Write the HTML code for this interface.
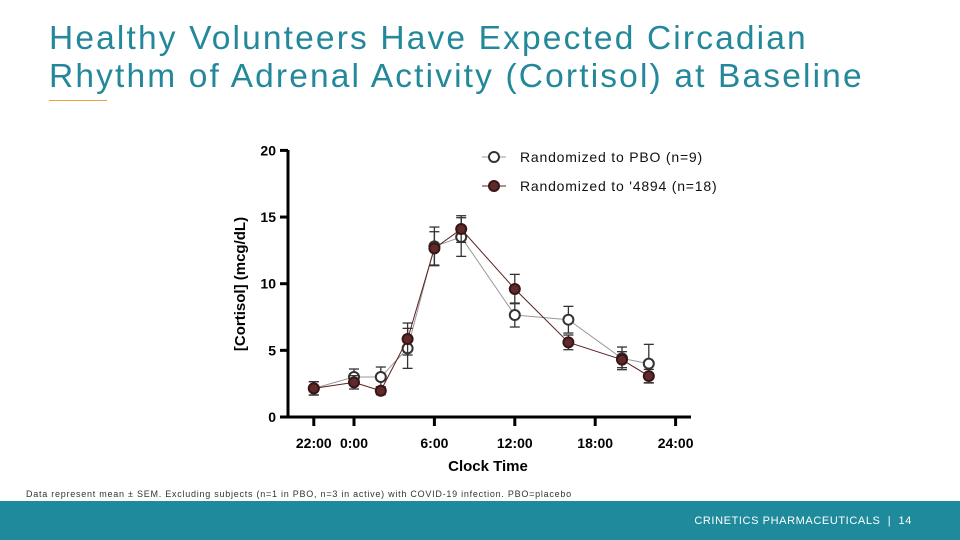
<!DOCTYPE html>
<html><head><meta charset="utf-8"><style>
body{margin:0;width:960px;height:540px;background:#fff;position:relative;overflow:hidden;font-family:"Liberation Sans",sans-serif}
.title{position:absolute;left:49px;top:20px;font-size:33.5px;line-height:38px;color:#23889a;font-weight:normal;letter-spacing:2.15px;white-space:nowrap}
.rule{position:absolute;left:49px;top:100px;width:58px;height:1px;background:#e8a040}
.note{position:absolute;left:26px;top:489px;font-size:9px;color:#333;letter-spacing:0.75px;white-space:nowrap}
.footer{position:absolute;left:0;top:501px;width:960px;height:39px;background:#1e8a9c}
.footer span{position:absolute;right:48px;top:14px;font-size:11px;color:#fff;letter-spacing:.6px}
</style></head><body>
<div class="title">Healthy Volunteers Have Expected Circadian<br>Rhythm of Adrenal Activity (Cortisol) at Baseline</div>
<div class="rule"></div>
<svg id="chart" width="960" height="540" style="position:absolute;left:0;top:0"></svg>
<div class="note">Data represent mean ± SEM. Excluding subjects (n=1 in PBO, n=3 in active) with COVID-19 infection. PBO=placebo</div>
<div class="footer"><span>CRINETICS PHARMACEUTICALS &nbsp;|&nbsp; 14</span></div>
<script>
const hours=[-3,0,2,4,6,8,12,16,20,22];
const pboMean=[2.15,3.0,3.0,5.15,12.8,13.5,7.65,7.3,4.4,4.0];
const pboSem=[0.5,0.6,0.75,1.5,1.45,1.45,0.9,1.0,0.85,1.45];
const actMean=[2.15,2.6,1.97,5.85,12.65,14.1,9.6,5.6,4.3,3.07];
const actSem=[0.5,0.5,0.3,1.2,1.25,1.0,1.1,0.55,0.6,0.5];
const xTicks=[-3,0,6,12,18,24];
const xTickLabels=["22:00","0:00","6:00","12:00","18:00","24:00"];
const yTicks=[0,5,10,15,20];
const NS="http://www.w3.org/2000/svg";
const svg=document.getElementById('chart');
const X=h=>354+h*13.4;
const Y=v=>417-v*13.33;
function mk(t,a,p){const e=document.createElementNS(NS,t);for(const k in a)e.setAttribute(k,a[k]);(p||svg).appendChild(e);return e;}
let ya=mk('line',{x1:288,y1:150,x2:288,y2:418,stroke:'#000','stroke-width':3});


let xa=mk('line',{x1:287,y1:417,x2:691,y2:417,stroke:'#000','stroke-width':3});


yTicks.forEach(v=>{
 mk('line',{x1:280,y1:Y(v),x2:288,y2:Y(v),stroke:'#000','stroke-width':3});
 const t=mk('text',{x:276,y:Y(v)+5,'text-anchor':'end','font-size':14,'font-weight':'bold'});t.textContent=v;
 
 
});
xTicks.forEach((h,i)=>{
 mk('line',{x1:X(h),y1:417,x2:X(h),y2:426,stroke:'#000','stroke-width':3});
 const t=mk('text',{x:X(h),y:448,'text-anchor':'middle','font-size':14,'font-weight':'bold'});t.textContent=xTickLabels[i];
 
 
});
let xt=mk('text',{x:488,y:471,'text-anchor':'middle','font-size':15,'font-weight':'bold'});xt.textContent='Clock Time';


let yt=mk('text',{x:0,y:0,'text-anchor':'middle','font-size':15,'font-weight':'bold',transform:'translate(245,284) rotate(-90)'});yt.textContent='[Cortisol] (mcg/dL)';


function series(mean,sem,lineCol,fill,stroke,name){
 const g=mk('g',{});
 
 
 mk('polyline',{points:hours.map((h,i)=>X(h)+','+Y(mean[i])).join(' '),fill:'none',stroke:lineCol,'stroke-width':1},g);
 hours.forEach((h,i)=>{
  const x=X(h),y1=Y(mean[i]+sem[i]),y2=Y(mean[i]-sem[i]);
  mk('line',{x1:x,y1:y1,x2:x,y2:y2,stroke:'#333','stroke-width':1.3},g);
  mk('line',{x1:x-5,y1:y1,x2:x+5,y2:y1,stroke:'#333','stroke-width':1.3},g);
  mk('line',{x1:x-5,y1:y2,x2:x+5,y2:y2,stroke:'#333','stroke-width':1.3},g);
 });
 hours.forEach((h,i)=>{
  const c=mk('circle',{cx:X(h),cy:Y(mean[i]),r:5,fill:fill,stroke:stroke,'stroke-width':2},g);
  
  
 });
}
series(pboMean,pboSem,'#999','#fff','#333','pbo-series');
series(actMean,actSem,'#5a2020','#5e2a2a','#3a1515','active-series');
function leg(y,fill,stroke,col,label,name){
 const g=mk('g',{});
 
 
 mk('line',{x1:482,y1:y,x2:506,y2:y,stroke:col,'stroke-width':1},g);
 mk('circle',{cx:494,cy:y,r:5,fill:fill,stroke:stroke,'stroke-width':2},g);
 const t=mk('text',{x:520,y:y+5,'font-size':14,fill:'#111','letter-spacing':'0.8'},g);t.textContent=label;
}
leg(157,'#fff','#333','#999','Randomized to PBO (n=9)','legend-entry-pbo');
leg(186,'#5e2a2a','#3a1515','#5a2020',"Randomized to '4894 (n=18)",'legend-entry-active');
</script>
</body></html>
